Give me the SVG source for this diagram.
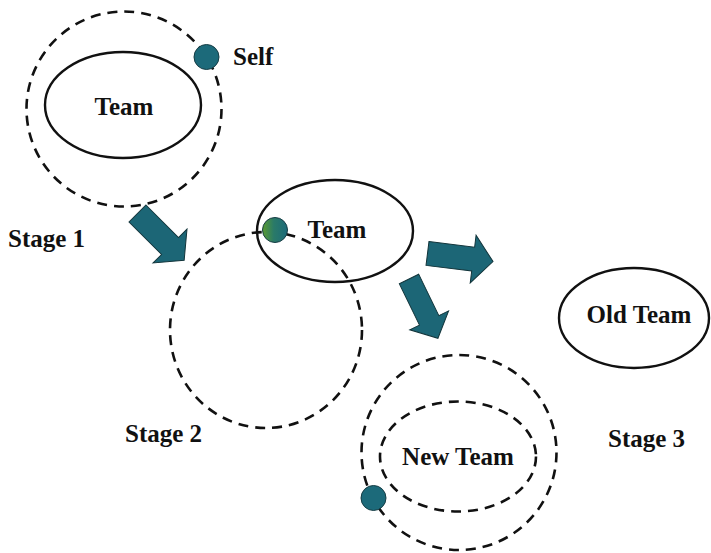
<svg xmlns="http://www.w3.org/2000/svg" width="711" height="553" viewBox="0 0 711 553">
<style>
.dash{fill:none;stroke:#111;stroke-width:2.6;stroke-dasharray:10 7}
.solid{fill:none;stroke:#111;stroke-width:2.4}
.lbl{font-family:"Liberation Serif","Times New Roman",serif;font-weight:bold;font-size:25px;fill:#111}
.arrow{fill:#1c6676;stroke:#12343a;stroke-width:1}
.dot{fill:#1c6a7a;stroke:#163c44;stroke-width:1}
</style>
<defs>
<linearGradient id="g2" x1="0" y1="0" x2="1" y2="0">
<stop offset="0" stop-color="#5a9a30"/>
<stop offset="0.45" stop-color="#2a7a68"/>
<stop offset="1" stop-color="#1c6a7a"/>
</linearGradient>
<polygon id="arr" points="0,-12 46,-12 46,-24 66,0 46,24 46,12 0,12"/>
</defs>

<g id="stage1">
<circle class="dash" cx="124" cy="109" r="97.5"/>
<ellipse class="solid" cx="123" cy="105" rx="78" ry="53"/>
<text class="lbl" x="124" y="115" text-anchor="middle">Team</text>
<circle class="dot" cx="206.5" cy="57" r="12.5"/>
<text class="lbl" x="233" y="65">Self</text>
<text class="lbl" x="8" y="247">Stage 1</text>
</g>

<g id="stage2">
<ellipse class="dash" cx="266" cy="330" rx="96" ry="98"/>
<ellipse class="solid" cx="335" cy="231" rx="78" ry="51"/>
<circle cx="275" cy="230" r="12.5" fill="url(#g2)" stroke="#163c44" stroke-width="1"/>
<text class="lbl" x="337" y="238" text-anchor="middle">Team</text>
<text class="lbl" x="125" y="442">Stage 2</text>
</g>

<g id="stage3">
<ellipse class="solid" cx="634" cy="318" rx="75" ry="50"/>
<text class="lbl" x="639" y="323" text-anchor="middle">Old Team</text>
<circle class="dash" cx="459" cy="452.5" r="97.5"/>
<ellipse class="dash" cx="458" cy="456.5" rx="78" ry="55"/>
<text class="lbl" x="458" y="465" text-anchor="middle">New Team</text>
<circle class="dot" cx="373.5" cy="498" r="12.5"/>
<text class="lbl" x="608" y="447">Stage 3</text>
</g>

<g id="connectors">
<use href="#arr" class="arrow" transform="translate(137.5,213.5) rotate(45)"/>
<use href="#arr" class="arrow" transform="translate(427.5,253.5) rotate(7)"/>
<use href="#arr" class="arrow" transform="translate(409,279) rotate(64) scale(1,0.9)"/>
</g>
</svg>
